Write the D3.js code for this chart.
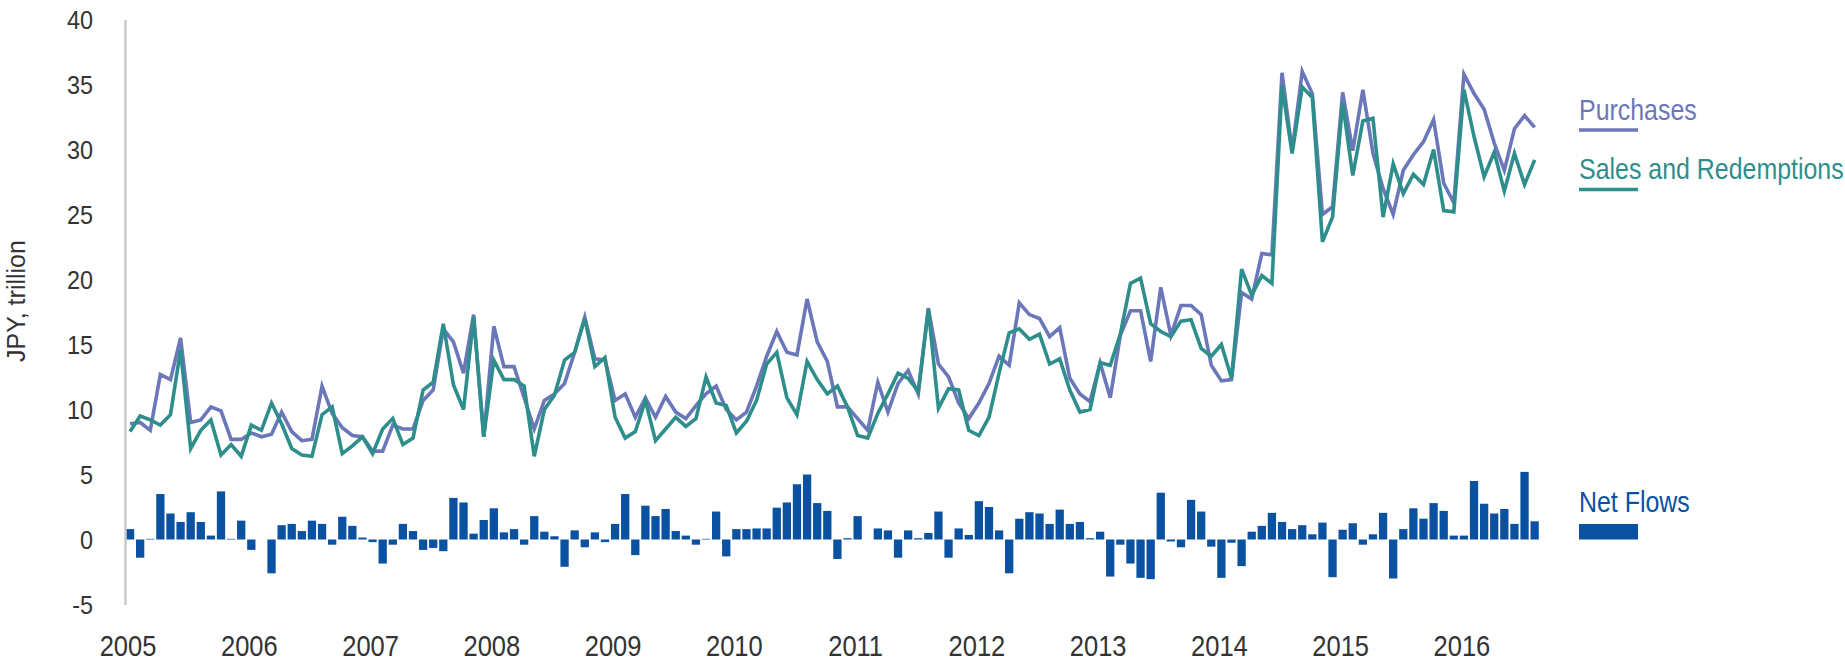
<!DOCTYPE html>
<html>
<head>
<meta charset="utf-8">
<script src="https://cdn.jsdelivr.net/npm/d3@7"></script>
<style>
  html, body { margin: 0; padding: 0; background: #ffffff; }
  svg { display: block; }
  text { font-family: "Liberation Sans", Arial, sans-serif; }
</style>
</head>
<body>
<svg id="chart" width="1845" height="661"></svg>
<script>
// Monthly data, Jan 2005 - Aug 2016 (JPY trillion)
const years = ["2005","2006","2007","2008","2009","2010","2011","2012","2013","2014","2015","2016"];

const purchases = [
  8.9, 9.0, 8.4, 12.7, 12.3, 15.5, 9.0, 9.2, 10.2, 9.9, 7.7, 7.7,
  8.2, 7.9, 8.1, 9.8, 8.3, 7.6, 7.7, 11.8, 9.7, 8.6, 8.0, 7.9,
  6.8, 6.8, 8.8, 8.5, 8.5, 10.7, 11.5, 16.2, 15.2, 12.8, 17.3, 7.9,
  16.4, 13.3, 13.3, 10.9, 8.5, 10.7, 11.2, 12.0, 14.4, 17.1, 13.9, 13.8,
  10.7, 11.2, 9.4, 10.9, 9.4, 11.0, 9.8, 9.3, 10.3, 11.2, 11.8, 10.0,
  9.2, 9.8, 11.8, 14.1, 16.0, 14.4, 14.2, 18.5, 15.2, 13.7, 10.2, 10.2,
  9.3, 8.4, 12.1, 9.8, 12.0, 13.0, 11.2, 17.8, 13.5, 12.5, 10.5, 9.3,
  10.5, 12.0, 14.1, 13.4, 18.2, 17.3, 17.0, 15.6, 16.3, 12.4, 11.2, 10.6,
  13.6, 10.9, 15.7, 17.6, 17.6, 13.7, 19.4, 15.7, 18.0, 18.0, 17.3, 13.4,
  12.2, 12.3, 19.0, 18.5, 22.0, 21.9, 35.9, 29.9, 36.0, 34.3, 25.0, 25.6,
  34.4, 29.9, 34.6, 29.7, 27.0, 25.0, 28.4, 29.6, 30.6, 32.3, 27.4, 25.9,
  35.8, 34.3, 33.1, 30.5, 28.4, 31.6, 32.6, 31.7
];

const sales = [
  8.3, 9.5, 9.2, 8.8, 9.6, 14.6, 7.0, 8.4, 9.2, 6.5, 7.3, 6.4,
  8.8, 8.4, 10.5, 8.9, 7.0, 6.5, 6.4, 9.6, 10.2, 6.6, 7.2, 7.9,
  6.6, 8.5, 9.3, 7.3, 7.8, 11.5, 12.1, 16.6, 11.9, 10.0, 17.1, 7.9,
  13.8, 12.3, 12.3, 11.8, 6.4, 10.0, 11.1, 13.8, 14.4, 17.0, 13.3, 14.0,
  9.4, 7.8, 8.3, 10.7, 7.6, 8.5, 9.4, 8.7, 9.3, 12.5, 10.5, 10.3,
  8.2, 9.1, 10.7, 13.5, 14.4, 10.9, 9.6, 13.7, 12.3, 11.2, 11.8, 10.2,
  8.0, 7.8, 9.7, 11.2, 12.8, 12.4, 11.4, 17.7, 10.1, 11.6, 11.5, 8.4,
  8.0, 9.4, 12.8, 15.9, 16.2, 15.4, 15.8, 13.5, 13.9, 11.5, 9.8, 10.0,
  13.6, 13.4, 15.8, 19.7, 20.1, 16.6, 16.0, 15.6, 16.8, 16.9, 14.7, 14.1,
  15.0, 12.4, 20.8, 18.8, 20.3, 19.7, 34.9, 29.7, 34.8, 34.0, 22.9, 24.8,
  33.6, 28.0, 32.2, 32.4, 24.8, 28.9, 26.6, 28.1, 27.3, 30.0, 25.3, 25.2,
  34.6, 31.0, 27.9, 29.8, 26.8, 29.7, 27.3, 29.2
];

const netFlows = [
  0.8, -1.4, 0.05, 3.5, 2.0, 1.35, 2.1, 1.35, 0.3, 3.7, 0.05, 1.45,
  -0.8, 0.0, -2.6, 1.1, 1.2, 0.65, 1.45, 1.2, -0.4, 1.75, 1.05, 0.15,
  -0.2, -1.85, -0.4, 1.2, 0.65, -0.8, -0.65, -0.9, 3.2, 2.85, 0.45, 1.5,
  2.4, 0.55, 0.8, -0.4, 1.8, 0.6, 0.25, -2.1, 0.7, -0.6, 0.55, -0.2,
  1.2, 3.5, -1.2, 2.6, 1.8, 2.35, 0.65, 0.3, -0.4, 0.05, 2.15, -1.3,
  0.8, 0.8, 0.85, 0.85, 2.45, 2.85, 4.25, 5.0, 2.8, 2.2, -1.5, 0.1,
  1.8, 0.0, 0.85, 0.7, -1.4, 0.7, 0.1, 0.5, 2.15, -1.4, 0.85, 0.35,
  2.95, 2.5, 0.7, -2.6, 1.6, 2.1, 2.0, 1.2, 2.3, 1.2, 1.35, 0.1,
  0.6, -2.85, -0.4, -1.85, -2.95, -3.05, 3.6, -0.15, -0.6, 3.05, 2.15, -0.55,
  -2.95, -0.25, -2.05, 0.6, 1.05, 2.05, 1.35, 0.8, 1.1, 0.4, 1.3, -2.9,
  0.75, 1.25, -0.4, 0.4, 2.05, -3.0, 0.8, 2.4, 1.6, 2.8, 2.2, 0.3,
  0.3, 4.5, 2.75, 2.0, 2.35, 1.2, 5.2, 1.4
];

const yTicks = [-5, 0, 5, 10, 15, 20, 25, 30, 35, 40];
const seriesNames = ["Purchases", "Sales and Redemptions", "Net Flows"];
const yTitle = "JPY, trillion";

const COL_P = "#6b77b9";
const COL_S = "#2e8e8c";
const COL_N = "#0b51a1";
const COL_TXT = "#333333";

const svg = d3.select("#chart");
const months = d3.range(purchases.length);

const x = d3.scaleBand()
  .domain(months)
  .range([125, 1539.7])
  .paddingInner(0.18)
  .paddingOuter(0.09);

const y = d3.scaleLinear().domain([-5, 40]).range([604.5, 19.5]);
const cx = i => x(i) + x.bandwidth() / 2;

// Net flow bars
svg.append("g").selectAll("rect")
  .data(netFlows)
  .join("rect")
  .attr("x", (d, i) => x(i))
  .attr("width", x.bandwidth())
  .attr("y", d => y(Math.max(0, d)))
  .attr("height", d => Math.abs(y(d) - y(0)))
  .attr("fill", COL_N);

// Lines
const line = d3.line().x((d, i) => cx(i)).y(d => y(d));
svg.append("path").datum(purchases)
  .attr("d", line).attr("fill", "none")
  .attr("stroke", COL_P).attr("stroke-width", 3.6);
svg.append("path").datum(sales)
  .attr("d", line).attr("fill", "none")
  .attr("stroke", COL_S).attr("stroke-width", 3.6);

// Y axis
const yAxis = svg.append("g")
  .attr("transform", "translate(125,0)")
  .call(d3.axisLeft(y).tickValues(yTicks).tickSize(0).tickSizeOuter(0).tickFormat(d => String(d)));
yAxis.select(".domain").attr("stroke", "#c8c8c8").attr("stroke-width", 2.5);
yAxis.selectAll(".tick text")
  .attr("x", 0).attr("dy", "0.36em")
  .attr("transform", "translate(-32,0) scale(0.9,1)")
  .style("font-family", "'Liberation Sans', Arial, sans-serif")
  .style("font-size", "26px")
  .attr("fill", COL_TXT);

// X axis (January of each year)
const janIdx = years.map((_, k) => k * 12);
const xAxis = svg.append("g")
  .attr("transform", "translate(-2,656)")
  .call(d3.axisBottom(x).tickValues(janIdx).tickSize(0).tickFormat(i => years[i / 12]));
xAxis.select(".domain").remove();
xAxis.selectAll(".tick text")
  .attr("y", 0).attr("dy", 0)
  .attr("transform", "scale(0.88,1)")
  .style("font-family", "'Liberation Sans', Arial, sans-serif")
  .style("font-size", "29px")
  .attr("fill", COL_TXT);

// Y title
svg.append("text")
  .attr("transform", "translate(25,301) rotate(-90)")
  .attr("text-anchor", "middle")
  .style("font-size", "25px")
  .attr("fill", COL_TXT)
  .text(yTitle);

// Legend
const leg = [
  { name: seriesNames[0], color: COL_P, ty: 119.5, kind: "line", sy: 130 },
  { name: seriesNames[1], color: COL_S, ty: 178.5, kind: "line", sy: 189.5 },
  { name: seriesNames[2], color: COL_N, ty: 512, kind: "rect", sy: 524 }
];
const lg = svg.append("g");
leg.forEach(l => {
  lg.append("text")
    .attr("transform", `translate(1579,${l.ty}) scale(0.86,1)`)
    .style("font-size", "29px")
    .attr("fill", l.color)
    .text(l.name);
  if (l.kind === "line") {
    lg.append("line")
      .attr("x1", 1579).attr("x2", 1638)
      .attr("y1", l.sy).attr("y2", l.sy)
      .attr("stroke", l.color).attr("stroke-width", 3.5);
  } else {
    lg.append("rect")
      .attr("x", 1579).attr("width", 59)
      .attr("y", l.sy).attr("height", y(0) - l.sy)
      .attr("fill", l.color);
  }
});
</script>
</body>
</html>
